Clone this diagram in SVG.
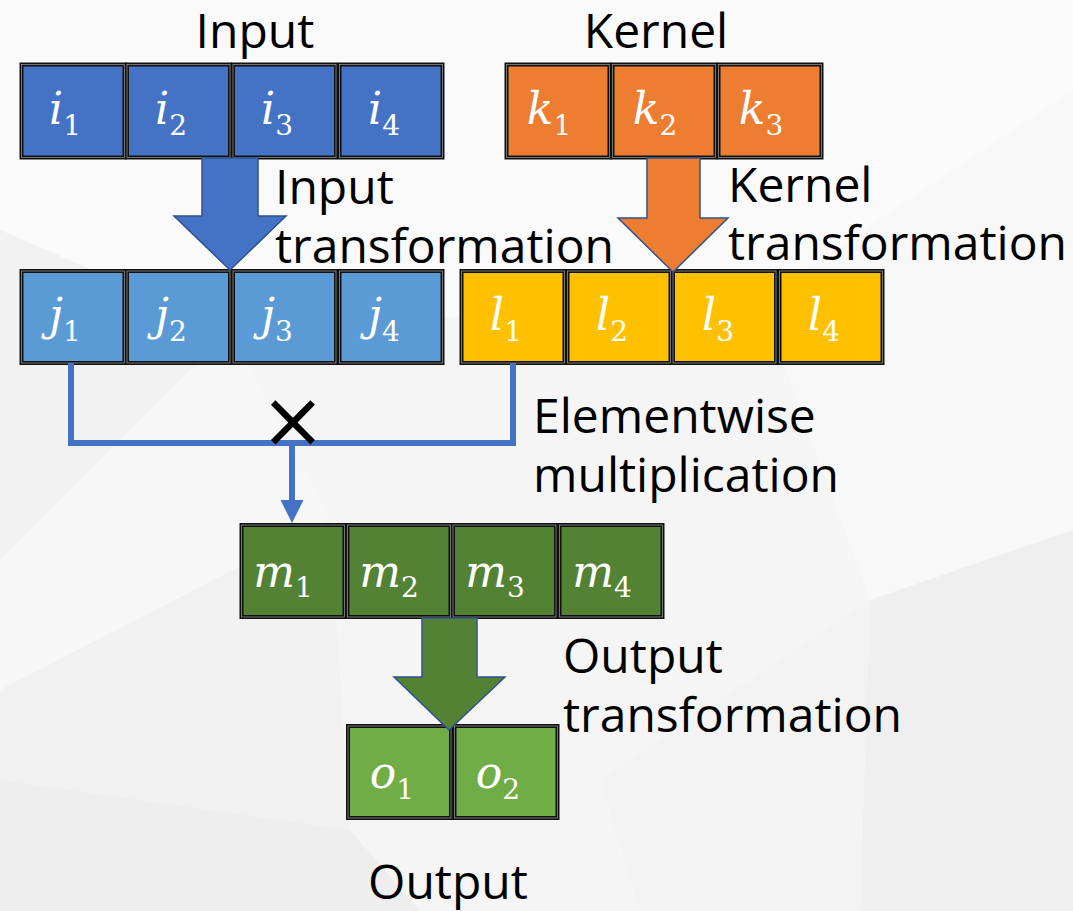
<svg xmlns="http://www.w3.org/2000/svg" width="1073" height="911" viewBox="0 0 1073 911">
  <style>
    .lbl { font-family: "Open Sans", "Noto Sans", "Liberation Sans", sans-serif; font-size: 48px; fill: #000; }
    .cell { stroke: #111; stroke-width: 4; }
    .rim { fill: none; stroke: #8c8c8c; stroke-width: 0.8; }
    .math { font-family: "DejaVu Serif", "Liberation Serif", serif; font-style: italic; font-size: 44px; fill: #fff; text-anchor: middle; }
    .math tspan.sub { font-style: normal; font-size: 28px; }
    .in { fill: #4472C4; }
    .jt { fill: #5B9BD5; }
    .kr { fill: #ED7D31; }
    .lt { fill: #FFC000; }
    .mt { fill: #548235; }
    .ot { fill: #70AD47; }
    .bigarrow { stroke: #2F528F; stroke-width: 1.5; stroke-linejoin: miter; }
    .wire { fill: none; stroke: #4472C4; stroke-width: 6; }
    .times { font-family: "DejaVu Sans", sans-serif; font-size: 78px; fill: #000; text-anchor: middle; }
  </style>

  <!-- faceted light-grey backdrop -->
  <g id="backdrop">
    <rect x="0" y="0" width="1073" height="911" fill="#F5F5F5"/>
    <polygon points="0,0 1073,0 1073,90 760,300 230,330 0,230" fill="#FAFAFA"/>
    <polygon points="0,230 230,330 0,560" fill="#F2F2F2"/>
    <polygon points="0,560 230,330 330,520 0,690" fill="#F7F7F7"/>
    <polygon points="0,690 330,520 350,830 0,780" fill="#F1F1F1"/>
    <polygon points="0,780 350,830 420,911 0,911" fill="#EEEEEE"/>
    <polygon points="760,300 1073,90 1073,530 870,600" fill="#F8F8F8"/>
    <polygon points="870,600 1073,530 1073,911 860,911" fill="#EFEFEF"/>
    <polygon points="600,780 870,600 860,911 640,911" fill="#F3F3F3"/>
  </g>

  <!-- Input vector -->
  <g id="input">
    <rect class="cell in" x="21.5" y="64.5" width="103" height="93"/>
    <rect class="rim" x="21.5" y="64.5" width="103" height="93"/>
    <rect class="cell in" x="127" y="64.5" width="103" height="93"/>
    <rect class="rim" x="127" y="64.5" width="103" height="93"/>
    <rect class="cell in" x="233" y="64.5" width="103" height="93"/>
    <rect class="rim" x="233" y="64.5" width="103" height="93"/>
    <rect class="cell in" x="339.5" y="64.5" width="103" height="93"/>
    <rect class="rim" x="339.5" y="64.5" width="103" height="93"/>
    <text class="math" x="65" y="124">i<tspan class="sub" dy="11">1</tspan></text>
    <text class="math" x="171" y="124">i<tspan class="sub" dy="11">2</tspan></text>
    <text class="math" x="277" y="124">i<tspan class="sub" dy="11">3</tspan></text>
    <text class="math" x="384" y="124">i<tspan class="sub" dy="11">4</tspan></text>
    <text class="lbl" x="255" y="48" text-anchor="middle">Input</text>
  </g>

  <!-- Kernel vector -->
  <g id="kernel">
    <rect class="cell kr" x="506.5" y="64.5" width="103" height="93"/>
    <rect class="rim" x="506.5" y="64.5" width="103" height="93"/>
    <rect class="cell kr" x="612.5" y="64.5" width="103" height="93"/>
    <rect class="rim" x="612.5" y="64.5" width="103" height="93"/>
    <rect class="cell kr" x="718.5" y="64.5" width="103" height="93"/>
    <rect class="rim" x="718.5" y="64.5" width="103" height="93"/>
    <text class="math" x="549" y="124">k<tspan class="sub" dy="11">1</tspan></text>
    <text class="math" x="655" y="124">k<tspan class="sub" dy="11">2</tspan></text>
    <text class="math" x="761" y="124">k<tspan class="sub" dy="11">3</tspan></text>
    <text class="lbl" x="656" y="48" text-anchor="middle">Kernel</text>
  </g>

  <!-- Transformed input -->
  <g id="input-transformed">
    <rect class="cell jt" x="21.5" y="271" width="103" height="92"/>
    <rect class="rim" x="21.5" y="271" width="103" height="92"/>
    <rect class="cell jt" x="127" y="271" width="103" height="92"/>
    <rect class="rim" x="127" y="271" width="103" height="92"/>
    <rect class="cell jt" x="233" y="271" width="103" height="92"/>
    <rect class="rim" x="233" y="271" width="103" height="92"/>
    <rect class="cell jt" x="339.5" y="271" width="103" height="92"/>
    <rect class="rim" x="339.5" y="271" width="103" height="92"/>
    <text class="math" x="65" y="330">j<tspan class="sub" dy="11">1</tspan></text>
    <text class="math" x="171" y="330">j<tspan class="sub" dy="11">2</tspan></text>
    <text class="math" x="277" y="330">j<tspan class="sub" dy="11">3</tspan></text>
    <text class="math" x="384" y="330">j<tspan class="sub" dy="11">4</tspan></text>
  </g>

  <!-- Transformed kernel -->
  <g id="kernel-transformed">
    <rect class="cell lt" x="461.5" y="271" width="103" height="92"/>
    <rect class="rim" x="461.5" y="271" width="103" height="92"/>
    <rect class="cell lt" x="567.5" y="271" width="103" height="92"/>
    <rect class="rim" x="567.5" y="271" width="103" height="92"/>
    <rect class="cell lt" x="673" y="271" width="103" height="92"/>
    <rect class="rim" x="673" y="271" width="103" height="92"/>
    <rect class="cell lt" x="779.5" y="271" width="103" height="92"/>
    <rect class="rim" x="779.5" y="271" width="103" height="92"/>
    <text class="math" x="506" y="330">l<tspan class="sub" dy="11">1</tspan></text>
    <text class="math" x="612" y="330">l<tspan class="sub" dy="11">2</tspan></text>
    <text class="math" x="718" y="330">l<tspan class="sub" dy="11">3</tspan></text>
    <text class="math" x="824" y="330">l<tspan class="sub" dy="11">4</tspan></text>
  </g>

  <!-- Product -->
  <g id="product">
    <rect class="cell mt" x="241.5" y="525" width="103" height="92"/>
    <rect class="rim" x="241.5" y="525" width="103" height="92"/>
    <rect class="cell mt" x="347.5" y="525" width="103" height="92"/>
    <rect class="rim" x="347.5" y="525" width="103" height="92"/>
    <rect class="cell mt" x="453" y="525" width="103" height="92"/>
    <rect class="rim" x="453" y="525" width="103" height="92"/>
    <rect class="cell mt" x="559.5" y="525" width="103" height="92"/>
    <rect class="rim" x="559.5" y="525" width="103" height="92"/>
    <text class="math" x="283" y="587">m<tspan class="sub" dy="10">1</tspan></text>
    <text class="math" x="389" y="587">m<tspan class="sub" dy="10">2</tspan></text>
    <text class="math" x="495" y="587">m<tspan class="sub" dy="10">3</tspan></text>
    <text class="math" x="602" y="587">m<tspan class="sub" dy="10">4</tspan></text>
  </g>

  <!-- Output vector -->
  <g id="output">
    <rect class="cell ot" x="348" y="726" width="103" height="92"/>
    <rect class="rim" x="348" y="726" width="103" height="92"/>
    <rect class="cell ot" x="454.5" y="726" width="103" height="92"/>
    <rect class="rim" x="454.5" y="726" width="103" height="92"/>
    <text class="math" x="392" y="788">o<tspan class="sub" dy="11">1</tspan></text>
    <text class="math" x="498" y="788">o<tspan class="sub" dy="11">2</tspan></text>
    <text class="lbl" x="448" y="899" text-anchor="middle">Output</text>
  </g>

  <!-- Connectors -->
  <g id="connectors">
    <polygon class="bigarrow in" points="202,158 258,158 258,216 286,216 230,270 174,216 202,216"/>
    <polygon class="bigarrow kr" points="647,158 700,158 700,218 728,218 673,272 618,218 647,218"/>
    <polygon class="bigarrow mt" points="422,618 477,618 477,677 505,677 449,730 394,677 422,677"/>
    <path class="wire" d="M71,363 V443 H513 V363"/>
    <path class="wire" d="M292,443 V502"/>
    <polygon points="280.5,500 303.5,500 292,523" fill="#4472C4"/>
  </g>

  <!-- Step labels -->
  <g id="labels">
    <text class="lbl" x="275" y="204">Input</text>
    <text class="lbl" x="275" y="263">transformation</text>
    <text class="lbl" x="728" y="202">Kernel</text>
    <text class="lbl" x="728" y="260">transformation</text>
    <text class="times" x="293" y="447">×</text>
    <text class="lbl" x="533" y="433">Elementwise</text>
    <text class="lbl" x="533" y="492">multiplication</text>
    <text class="lbl" x="563" y="673">Output</text>
    <text class="lbl" x="563" y="732">transformation</text>
  </g>
</svg>
